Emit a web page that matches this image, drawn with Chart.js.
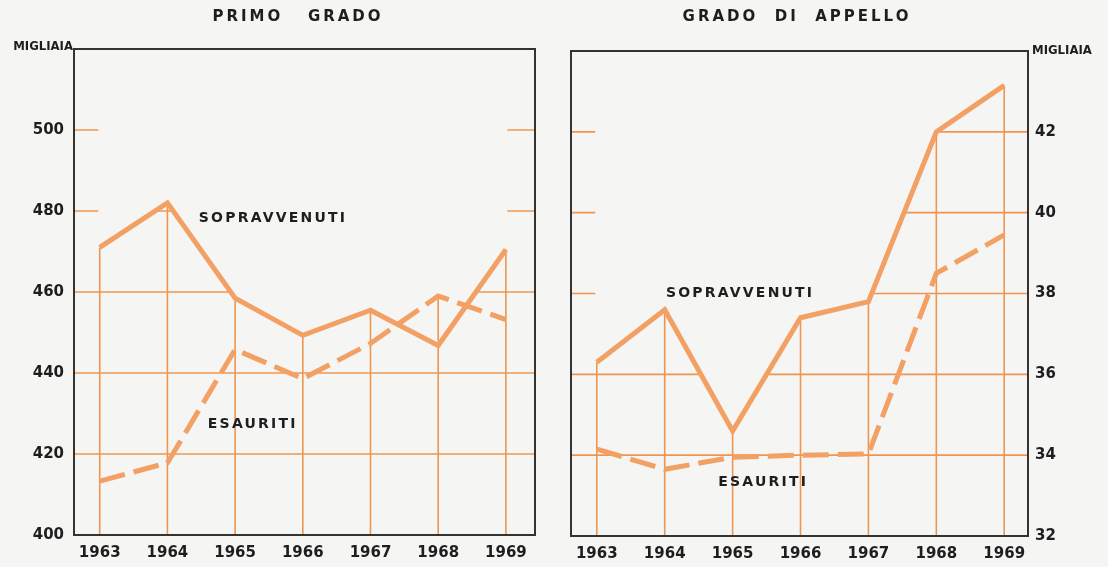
<html><head><meta charset="UTF-8">
<title>Procedimenti civili - primo grado e appello</title>
<script src="https://cdn.jsdelivr.net/npm/chart.js"></script>
<style>
body {
  margin: 0;
  background: #f5f5f3;
  width: 1108px;
  height: 567px;
  overflow: hidden;
  position: relative;
}
.panel {
  position: absolute;
  top: 0;
  height: 567px;
}
#left-panel { left: 0; width: 550px; }
#right-panel { left: 550px; width: 558px; }
</style>
</head>
<body>
<div class="panel" id="left-panel"><canvas id="primoChart"></canvas></div>
<div class="panel" id="right-panel"><canvas id="appelloChart"></canvas></div>

<script>
// data (thousands)
const years = [1963, 1964, 1965, 1966, 1967, 1968, 1969];
const primoSopravvenuti = [471, 482, 458.5, 449.3, 455.5, 446.8, 470.5];
const primoEsauriti = [413.3, 417.8, 445.8, 438.6, 447.3, 459.0, 453.2];
const appelloSopravvenuti = [36.3, 37.6, 34.6, 37.4, 37.8, 42.0, 43.15];
const appelloEsauriti = [34.15, 33.65, 33.95, 34.0, 34.03, 38.5, 39.45];
const primoTicks = [400, 420, 440, 460, 480, 500];
const appelloTicks = [32, 34, 36, 38, 40, 42];

const lineColor = '#f2a064';
const gridColor = '#ee9650';
const inkColor = '#1e1e1e';

function toPoints(values) {
  return years.map((y, i) => ({ x: y, y: values[i] }));
}

function spacedText(ctx, text, x, y, font, spacing, align) {
  ctx.save();
  ctx.font = font;
  ctx.fillStyle = inkColor;
  ctx.textBaseline = 'middle';
  ctx.textAlign = align || 'center';
  if ('letterSpacing' in ctx) ctx.letterSpacing = spacing + 'px';
  ctx.fillText(text, x, y);
  ctx.restore();
}

// grid only under the curves (plus the margins outside the years), then frame + labels
const paperPlugin = {
  id: 'paper',
  beforeDatasetsDraw(chart) {
    const { ctx, chartArea: a, scales } = chart;
    const xs = scales.x, ys = scales.y;
    const x0 = xs.getPixelForValue(years[0]) - 1.5;
    const xN = xs.getPixelForValue(years[years.length - 1]) + 1.5;
    ctx.save();
    ctx.beginPath();
    ctx.rect(a.left, a.top, x0 - a.left, a.bottom - a.top);
    ctx.rect(xN, a.top, a.right - xN, a.bottom - a.top);
    chart.data.datasets.forEach(ds => {
      const pts = ds.data;
      ctx.moveTo(x0, a.bottom);
      ctx.lineTo(x0, ys.getPixelForValue(pts[0].y));
      pts.forEach(p => ctx.lineTo(xs.getPixelForValue(p.x), ys.getPixelForValue(p.y)));
      ctx.lineTo(xN, ys.getPixelForValue(pts[pts.length - 1].y));
      ctx.lineTo(xN, a.bottom);
      ctx.closePath();
    });
    ctx.clip();
    ctx.strokeStyle = gridColor;
    ctx.lineWidth = 1.6;
    ctx.beginPath();
    chart.options.plugins.paper.ticks.slice(1).forEach(v => {
      const py = ys.getPixelForValue(v);
      ctx.moveTo(a.left, py);
      ctx.lineTo(a.right, py);
    });
    years.forEach(yr => {
      const px = xs.getPixelForValue(yr);
      ctx.moveTo(px, a.top);
      ctx.lineTo(px, a.bottom);
    });
    ctx.stroke();
    ctx.restore();
  },
  afterDraw(chart) {
    const { ctx, chartArea: a, scales } = chart;
    const o = chart.options.plugins.paper;
    ctx.save();
    ctx.strokeStyle = '#333';
    ctx.lineWidth = 2;
    ctx.strokeRect(a.left, a.top, a.right - a.left, a.bottom - a.top);
    ctx.restore();
    spacedText(ctx, o.title, o.titleX, 17, 'bold 15px "DejaVu Sans"', 3);
    spacedText(ctx, 'MIGLIAIA', o.unitX, o.unitY, 'bold 13px "DejaVu Sans Condensed"', 0, o.unitAlign);
    o.notes.forEach(n => {
      spacedText(ctx, n.text, scales.x.getPixelForValue(n.x), scales.y.getPixelForValue(n.y),
        'bold 14px "DejaVu Sans"', 2.2);
    });
  }
};

function makeChart(id, cfg) {
  return new Chart(document.getElementById(id), {
    type: 'line',
    data: {
      datasets: [
        {
          label: 'Sopravvenuti',
          data: toPoints(cfg.sopravvenuti),
          borderColor: lineColor,
          borderWidth: 5,
          pointRadius: 0,
          tension: 0
        },
        {
          label: 'Esauriti',
          data: toPoints(cfg.esauriti),
          borderColor: lineColor,
          borderWidth: 5,
          borderDash: [26, 9],
          pointRadius: 0,
          tension: 0
        }
      ]
    },
    options: {
      responsive: true,
      maintainAspectRatio: false,
      animation: false,
      layout: { padding: cfg.padding },
      plugins: {
        legend: { display: false },
        tooltip: { enabled: false },
        paper: cfg.paper
      },
      scales: {
        x: {
          type: 'linear',
          min: cfg.xMin,
          max: cfg.xMax,
          afterBuildTicks: s => { s.ticks = years.map(v => ({ value: v })); },
          afterFit: s => { s.height = cfg.xHeight; },
          grid: { display: false, drawTicks: false },
          border: { display: false },
          ticks: {
            padding: 9,
            color: inkColor,
            maxRotation: 0,
            autoSkip: false,
            font: { family: 'DejaVu Sans', size: 15, weight: 'bold' },
            callback: v => String(v)
          }
        },
        y: {
          position: cfg.yPosition,
          min: cfg.yMin,
          max: cfg.yMax,
          afterBuildTicks: s => { s.ticks = cfg.yTicks.map(v => ({ value: v })); },
          afterFit: s => { s.width = cfg.yWidth; },
          grid: { display: false, drawTicks: false },
          border: { display: false },
          ticks: {
            padding: cfg.yPad,
            color: inkColor,
            font: { family: 'DejaVu Sans', size: 15, weight: 'bold' }
          }
        }
      }
    },
    plugins: [paperPlugin]
  });
}

makeChart('primoChart', {
  sopravvenuti: primoSopravvenuti,
  esauriti: primoEsauriti,
  xMin: 1962.62, xMax: 1969.43,
  yMin: 400, yMax: 520, yTicks: primoTicks,
  yPosition: 'left', yWidth: 74, yPad: 10, xHeight: 32,
  padding: { top: 49, right: 15, left: 0, bottom: 0 },
  paper: {
    ticks: primoTicks,
    title: 'PRIMO   GRADO', titleX: 298,
    unitX: 73, unitY: 47, unitAlign: 'right',
    notes: [
      { text: 'SOPRAVVENUTI', x: 1965.56, y: 478.1 },
      { text: 'ESAURITI', x: 1965.26, y: 427.4 }
    ]
  }
});

makeChart('appelloChart', {
  sopravvenuti: appelloSopravvenuti,
  esauriti: appelloEsauriti,
  xMin: 1962.62, xMax: 1969.35,
  yMin: 32, yMax: 44, yTicks: appelloTicks,
  yPosition: 'right', yWidth: 80, yPad: 7, xHeight: 31,
  padding: { top: 51, right: 0, left: 21, bottom: 0 },
  paper: {
    ticks: appelloTicks,
    title: 'GRADO  DI  APPELLO', titleX: 247,
    unitX: 482, unitY: 51, unitAlign: 'left',
    notes: [
      { text: 'SOPRAVVENUTI', x: 1965.11, y: 38.0 },
      { text: 'ESAURITI', x: 1965.45, y: 33.32 }
    ]
  }
});
</script>
</body></html>
